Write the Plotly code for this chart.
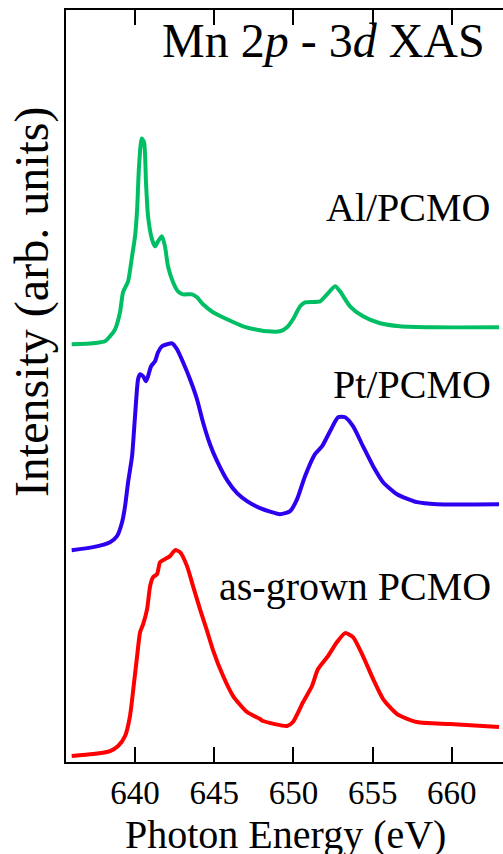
import plotly.graph_objects as go

# Photon energy (eV) and intensity (arb. units, vertically offset as plotted)
al_energy = [636.0, 637.35, 638.1, 638.42, 638.74, 639.05, 639.24, 639.56, 639.81, 640.0,
             640.13, 640.25, 640.42, 640.57, 640.69, 640.82, 641.07, 641.26, 641.45, 641.70,
             641.89, 642.08, 642.40, 642.71, 643.03, 643.60, 643.91, 644.29, 644.92, 645.81,
             646.82, 647.89, 648.33, 649.15, 649.60, 649.97, 650.42, 650.73, 651.68, 652.12,
             652.63, 652.94, 653.57, 654.39, 655.47, 656.73, 658.81, 662.98]
al_intensity = [4.18, 4.19, 4.21, 4.26, 4.33, 4.50, 4.70, 4.81, 5.06, 5.26,
                5.53, 5.96, 6.24, 6.20, 5.80, 5.46, 5.23, 5.16, 5.21, 5.26,
                5.16, 4.96, 4.80, 4.71, 4.68, 4.68, 4.65, 4.58, 4.50, 4.43,
                4.36, 4.32, 4.31, 4.31, 4.35, 4.43, 4.56, 4.60, 4.61, 4.68,
                4.76, 4.71, 4.56, 4.46, 4.39, 4.36, 4.35, 4.35]

pt_energy = [636.0, 637.35, 638.42, 638.86, 639.18, 639.37, 639.56, 639.81, 639.94, 640.06,
             640.19, 640.32, 640.51, 640.69, 640.82, 641.01, 641.26, 641.45, 641.70, 642.02,
             642.34, 642.65, 643.03, 643.47, 643.91, 644.29, 644.73, 645.18, 645.81, 646.44,
             647.07, 647.89, 649.15, 649.79, 650.23, 650.73, 651.36, 651.81, 652.31,
             652.82, 653.26, 653.76, 654.39, 655.03, 655.66, 656.54, 657.80, 659.07, 662.98]
pt_intensity = [2.12, 2.15, 2.20, 2.26, 2.40, 2.56, 2.80, 3.06, 3.33, 3.60,
                3.83, 3.88, 3.86, 3.81, 3.86, 3.96, 4.01, 4.10, 4.16, 4.18,
                4.19, 4.13, 4.00, 3.83, 3.63, 3.40, 3.18, 3.01, 2.82, 2.69,
                2.61, 2.54, 2.48, 2.51, 2.63, 2.86, 3.08, 3.16, 3.31,
                3.45, 3.45, 3.36, 3.16, 2.96, 2.80, 2.68, 2.60, 2.58, 2.58]

asg_energy = [636.0, 637.35, 638.42, 638.93, 639.37, 639.68, 639.94, 640.13, 640.32, 640.51,
              640.76, 640.95, 641.14, 641.39, 641.58, 641.89, 642.21, 642.53, 642.84, 643.28,
              643.66, 644.10, 644.55, 644.92, 645.56, 646.19, 647.07, 647.89, 648.08, 649.60,
              649.97, 650.61, 651.17, 651.55, 652.18, 652.75, 653.26, 653.76, 654.39, 655.03,
              655.66, 656.54, 657.80, 659.89, 662.98]
asg_intensity = [0.06, 0.08, 0.11, 0.16, 0.26, 0.46, 0.80, 1.06, 1.30, 1.38,
                 1.53, 1.76, 1.85, 1.88, 2.00, 2.03, 2.06, 2.12, 2.10, 1.96,
                 1.76, 1.53, 1.31, 1.12, 0.86, 0.66, 0.50, 0.43, 0.41, 0.36,
                 0.40, 0.60, 0.76, 0.93, 1.06, 1.20, 1.29, 1.25, 1.06, 0.83,
                 0.63, 0.48, 0.40, 0.38, 0.35]

x_ticks = [640, 645, 650, 655, 660]
series_names = ["Al/PCMO", "Pt/PCMO", "as-grown PCMO"]

SERIF = "Liberation Serif"

fig = go.Figure()
fig.add_trace(go.Scatter(x=al_energy, y=al_intensity, mode="lines", name=series_names[0],
                         line=dict(color="rgb(0,190,100)", width=4, shape="spline", smoothing=0.6)))
fig.add_trace(go.Scatter(x=pt_energy, y=pt_intensity, mode="lines", name=series_names[1],
                         line=dict(color="rgb(45,0,240)", width=4, shape="spline", smoothing=0.6)))
fig.add_trace(go.Scatter(x=asg_energy, y=asg_intensity, mode="lines", name=series_names[2],
                         line=dict(color="rgb(255,0,0)", width=4, shape="spline", smoothing=0.6)))

fig.update_layout(
    width=503, height=854,
    margin=dict(l=66, r=0, t=10, b=92),
    paper_bgcolor="white", plot_bgcolor="white",
    showlegend=False,
    font=dict(family=SERIF, color="black"),
    xaxis=dict(
        range=[635.64, 663.23], tickvals=x_ticks, ticktext=[str(t) for t in x_ticks],
        ticks="inside", ticklen=15, tickwidth=2, tickcolor="black",
        showline=True, linecolor="black", linewidth=2, mirror="ticks",
        showgrid=False, zeroline=False,
        tickfont=dict(family=SERIF, size=33, color="black"),
    ),
    yaxis=dict(
        range=[0, 7.525], showticklabels=False, ticks="",
        showline=True, linecolor="black", linewidth=2, mirror=False,
        showgrid=False, zeroline=False,
    ),
    annotations=[
        dict(text="Photon Energy (eV)", xref="paper", yref="paper", x=0.503, y=-0.064,
             xanchor="center", yanchor="top", showarrow=False,
             font=dict(family=SERIF, size=40, color="black")),
        dict(text="Intensity (arb. units)", xref="paper", yref="paper", x=-0.076, y=0.6126,
             xanchor="center", yanchor="middle", textangle=-90, showarrow=False,
             font=dict(family=SERIF, size=48, color="black")),
        dict(text="Mn 2<i>p</i> - 3<i>d</i> XAS", xref="paper", yref="paper", x=0.963, y=0.960,
             xanchor="right", yanchor="middle", showarrow=False,
             font=dict(family=SERIF, size=48, color="black")),
        dict(text=series_names[0], xref="paper", yref="paper", x=0.977, y=0.738,
             xanchor="right", yanchor="middle", showarrow=False,
             font=dict(family=SERIF, size=40, color="black")),
        dict(text=series_names[1], xref="paper", yref="paper", x=0.977, y=0.502,
             xanchor="right", yanchor="middle", showarrow=False,
             font=dict(family=SERIF, size=40, color="black")),
        dict(text=series_names[2], xref="paper", yref="paper", x=0.977, y=0.234,
             xanchor="right", yanchor="middle", showarrow=False,
             font=dict(family=SERIF, size=40, color="black")),
    ],
)

fig.write_html("out.html", config={"displayModeBar": False},
               post_script="document.body.style.margin='0';document.body.style.overflow='hidden';")
